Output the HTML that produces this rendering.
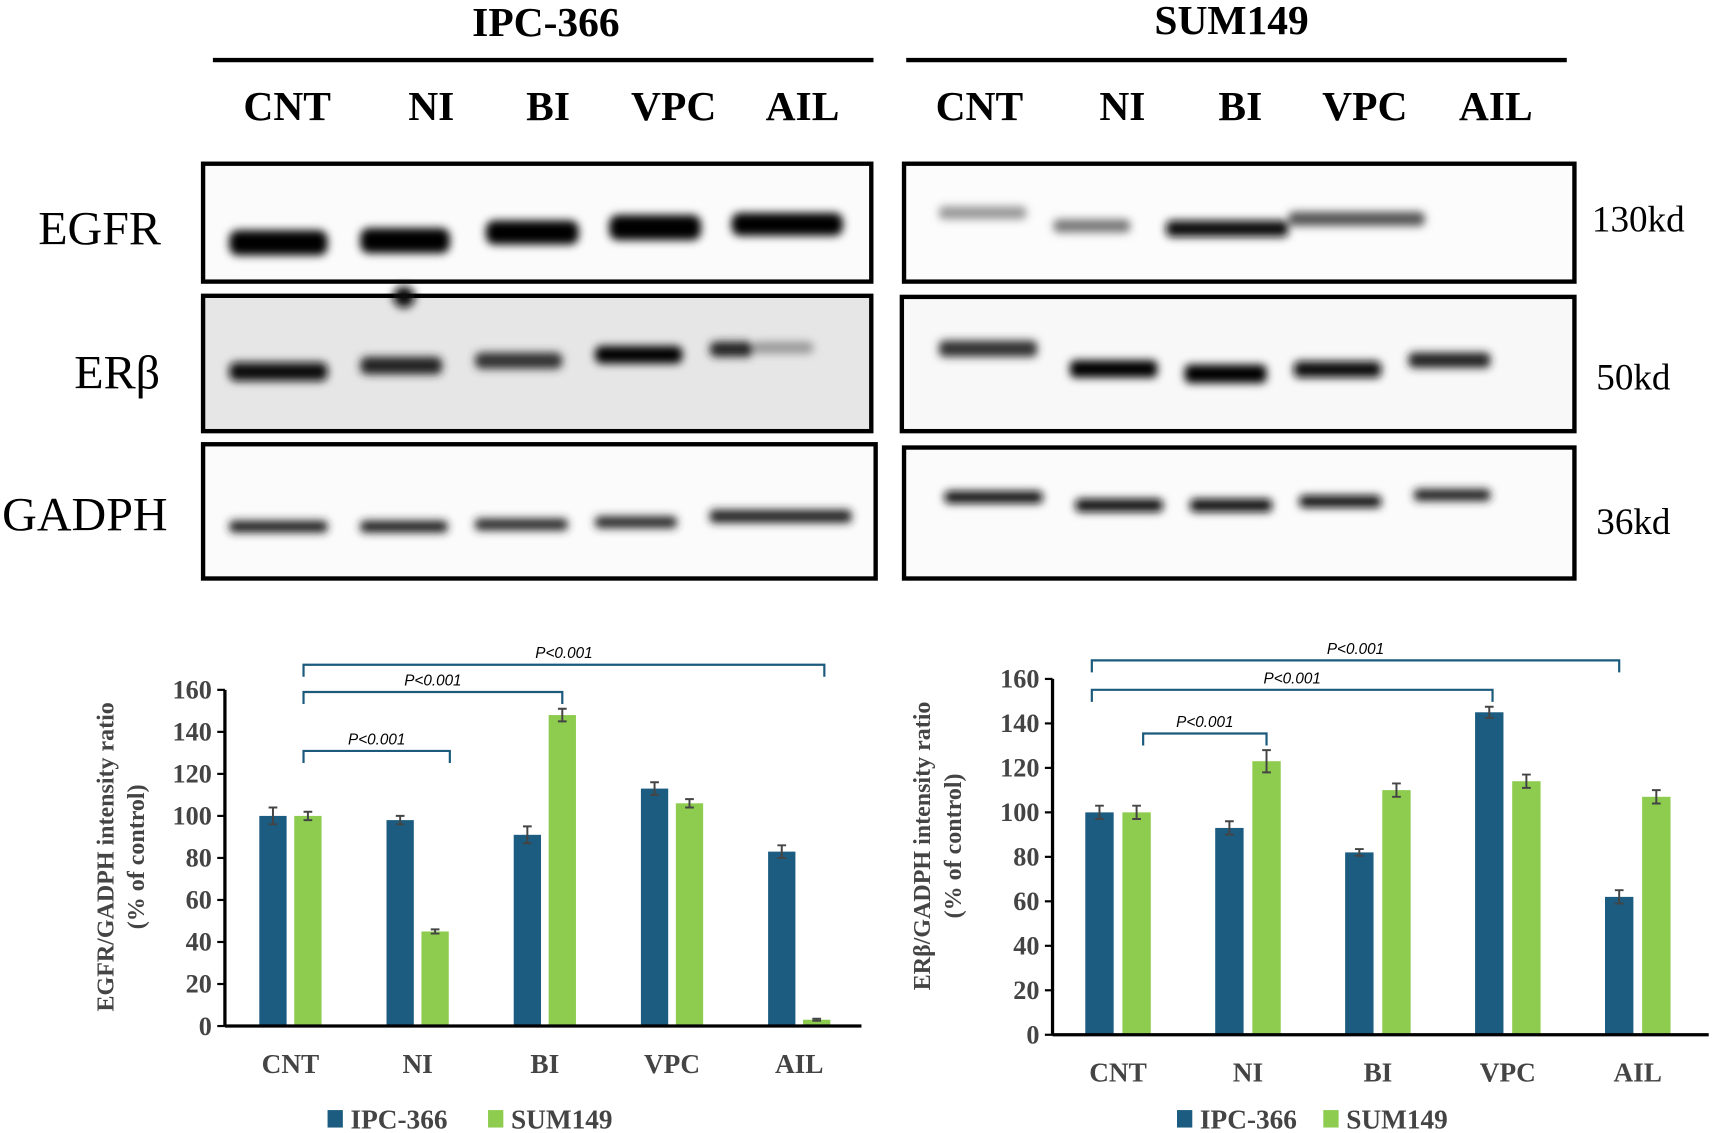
<!DOCTYPE html>
<html><head><meta charset="utf-8"><style>
html,body{margin:0;padding:0;background:#fff;}
svg{display:block;}
.ser{font-family:"Liberation Serif",serif;}
</style></head><body>
<svg id="fig" width="1712" height="1133" viewBox="0 0 1568 1038" preserveAspectRatio="none" xmlns="http://www.w3.org/2000/svg">
<defs>
<filter id="blur" x="-20%" y="-100%" width="140%" height="300%"><feGaussianBlur stdDeviation="4"/></filter>
</defs>
<g class="ser" font-weight="bold" fill="#000">
<text x="500" y="33" font-size="38" text-anchor="middle">IPC-366</text>
<text x="1128" y="31" font-size="38" text-anchor="middle">SUM149</text>
<line x1="195" y1="55" x2="800" y2="55" stroke="#000" stroke-width="4"/>
<line x1="830" y1="55" x2="1435" y2="55" stroke="#000" stroke-width="4"/>
<g font-size="38" text-anchor="middle">
<text x="263" y="110">CNT</text>
<text x="395" y="110">NI</text>
<text x="502" y="110">BI</text>
<text x="617" y="110">VPC</text>
<text x="735" y="110">AIL</text>
<text x="897" y="110">CNT</text>
<text x="1028" y="110">NI</text>
<text x="1136" y="110">BI</text>
<text x="1250" y="110">VPC</text>
<text x="1370" y="110">AIL</text>
</g>
</g>
<g class="ser" font-size="44" fill="#000">
<text x="35" y="224">EGFR</text>
<text x="68" y="356">ERβ</text>
<text x="2" y="486">GADPH</text>
</g>
<g class="ser" font-size="34" fill="#000">
<text x="1458" y="212">130kd</text>
<text x="1462" y="357">50kd</text>
<text x="1462" y="489">36kd</text>
</g>
<g id="blots">
<rect x="186" y="150" width="612" height="108" fill="#fbfbfb" stroke="#000" stroke-width="4"/>
<rect x="186" y="271" width="612" height="124" fill="#e6e6e6" stroke="#000" stroke-width="4"/>
<rect x="186" y="407" width="616" height="123" fill="#fbfbfb" stroke="#000" stroke-width="4"/>
<rect x="828" y="150" width="614" height="108" fill="#fcfcfc" stroke="#000" stroke-width="4"/>
<rect x="826" y="272" width="616" height="123" fill="#f8f8f8" stroke="#000" stroke-width="4"/>
<rect x="828" y="410" width="614" height="120" fill="#fbfbfb" stroke="#000" stroke-width="4"/>
<g filter="url(#blur)">
<rect x="210" y="211" width="90" height="23" rx="8" fill="#000"/>
<rect x="330" y="209" width="82" height="23" rx="8" fill="#000"/>
<rect x="445" y="202" width="85" height="22" rx="8" fill="#000"/>
<rect x="558" y="197" width="84" height="23" rx="8" fill="#000"/>
<rect x="670" y="195" width="102" height="21" rx="8" fill="#000"/>
<rect x="210" y="332" width="90" height="17" rx="6" fill="#111"/>
<rect x="330" y="327" width="75" height="16" rx="6" fill="#222"/>
<rect x="435" y="323" width="80" height="15" rx="6" fill="#333"/>
<rect x="545" y="317" width="80" height="16" rx="6" fill="#050505"/>
<rect x="650" y="313" width="40" height="14" rx="6" fill="#222"/>
<rect x="690" y="313" width="55" height="11" rx="5" fill="#999"/>
<circle cx="370" cy="272" r="10" fill="#111"/>
<rect x="210" y="477" width="90" height="11" rx="4" fill="#222"/>
<rect x="330" y="477" width="80" height="11" rx="4" fill="#222"/>
<rect x="435" y="475" width="85" height="11" rx="4" fill="#2a2a2a"/>
<rect x="545" y="473" width="75" height="11" rx="4" fill="#2a2a2a"/>
<rect x="650" y="467" width="130" height="12" rx="4" fill="#222"/>
<rect x="860" y="189" width="80" height="12" rx="4" fill="#999"/>
<rect x="965" y="201" width="70" height="12" rx="4" fill="#777"/>
<rect x="1068" y="202" width="112" height="15" rx="5" fill="#111"/>
<rect x="1180" y="194" width="125" height="13" rx="5" fill="#555"/>
<rect x="860" y="312" width="90" height="15" rx="5" fill="#333"/>
<rect x="980" y="330" width="80" height="16" rx="5" fill="#050505"/>
<rect x="1085" y="334" width="75" height="17" rx="5" fill="#000"/>
<rect x="1185" y="331" width="80" height="15" rx="5" fill="#111"/>
<rect x="1290" y="323" width="75" height="14" rx="5" fill="#222"/>
<rect x="865" y="450" width="90" height="11" rx="4" fill="#111"/>
<rect x="985" y="457" width="80" height="12" rx="4" fill="#111"/>
<rect x="1090" y="457" width="75" height="12" rx="4" fill="#0a0a0a"/>
<rect x="1190" y="454" width="75" height="11" rx="4" fill="#111"/>
<rect x="1295" y="448" width="70" height="11" rx="4" fill="#222"/>
</g>
</g>
<g id="chartL"></g>
<g id="chartR"></g>
</svg>
<script>
const categories = ["CNT","NI","BI","VPC","AIL"];
const egfrIpc = [100, 98, 91, 113, 83];
const egfrIpcErr = [4, 2, 4, 3, 3];
const egfrSum = [100, 45, 148, 106, 3];
const egfrSumErr = [2, 1, 3, 2, 0.5];
const erbIpc = [100, 93, 82, 145, 62];
const erbIpcErr = [3, 3, 1.5, 2.5, 3];
const erbSum = [100, 123, 110, 114, 107];
const erbSumErr = [3, 5, 3, 3, 3];
const yTicks = [0, 20, 40, 60, 80, 100, 120, 140, 160];
const series = ["IPC-366", "SUM149"];
const NS = "http://www.w3.org/2000/svg";
const BLUE = "#1b5c80", GREEN = "#8dcc4f", BRK = "#1b5a7c";
function mk(parent, tag, attrs, txt){
  const e = document.createElementNS(NS, tag);
  for (const k in attrs) e.setAttribute(k, attrs[k]);
  if (txt !== undefined) e.textContent = txt;
  parent.appendChild(e); return e;
}
function drawChart(g, cfg){
  const y = v => cfg.y0 - (v / 160) * (cfg.y0 - cfg.y160);
  const cx = i => cfg.c0 + i * cfg.step;
  const ya = mk(g, "line", {x1:cfg.ax, y1:cfg.y160, x2:cfg.ax, y2:cfg.y0, stroke:"#000", "stroke-width":3});
  
  
  yTicks.forEach(t => {
    const tl = mk(g, "line", {x1:cfg.ax-7, y1:y(t), x2:cfg.ax, y2:y(t), stroke:"#000", "stroke-width":2});
    
    
    const tx = mk(g, "text", {x:cfg.ax-12, y:y(t)+8, "text-anchor":"end", "font-size":24, "font-weight":"bold", fill:"#444", class:"ser"}, String(t));
    
    
  });
  categories.forEach((c, i) => {
    [[cfg.a, cfg.ae, BLUE, -1], [cfg.b, cfg.be, GREEN, 1]].forEach(([vals, errs, col, side], k) => {
      const bx = cx(i) + side * cfg.off - cfg.bw / 2;
      const r = mk(g, "rect", {x:bx, y:y(vals[i]), width:cfg.bw, height:y(0)-y(vals[i]), fill:col});
      
      
      const ex = bx + cfg.bw / 2;
      const eg = mk(g, "path", {d:`M${ex},${y(vals[i]+errs[i])}V${y(vals[i]-errs[i])}M${ex-4},${y(vals[i]+errs[i])}H${ex+4}M${ex-4},${y(vals[i]-errs[i])}H${ex+4}`, stroke:"#444", "stroke-width":1.8, fill:"none"});
      
      
    });
    const lab = mk(g, "text", {x:cx(i), y:cfg.y0+43, "text-anchor":"middle", "font-size":25, "font-weight":"bold", fill:"#444", class:"ser"}, c);
    
    
  });
  const xa = mk(g, "line", {x1:cfg.ax, y1:cfg.y0, x2:cfg.xEnd, y2:cfg.y0, stroke:"#000", "stroke-width":3});
  
  
  const yt = mk(g, "text", {transform:`translate(${cfg.ytx},${cfg.yty}) rotate(-90)`, "text-anchor":"middle", "font-size":22, "font-weight":"bold", fill:"#444", class:"ser"});
  
  
  mk(yt, "tspan", {x:0, y:0}, cfg.ytitle);
  mk(yt, "tspan", {x:0, y:28}, "(% of control)");
  cfg.brackets.forEach(b => {
    const p = mk(g, "path", {d:`M${b[0]},${b[2]+11}V${b[2]}H${b[1]}V${b[2]+11}`, stroke:BRK, "stroke-width":2, fill:"none"});
    
    
    const t = mk(g, "text", {x:(b[0]+b[1])/2, y:b[2]-6, "text-anchor":"middle", "font-size":14, "font-style":"italic", fill:"#000", "font-family":"Liberation Sans, sans-serif"}, "P<0.001");
    
    
  });
  [[BLUE, cfg.lg], [GREEN, cfg.lg + cfg.lg2]].forEach(([col, lx], k) => {
    const s = mk(g, "rect", {x:lx, y:1017, width:14, height:16, fill:col});
    
    
    const t = mk(g, "text", {x:lx+21, y:1034, "font-size":25, "font-weight":"bold", fill:"#444", class:"ser"}, series[k]);
    
    
  });
}
drawChart(document.getElementById("chartL"), {
  a:egfrIpc, ae:egfrIpcErr, b:egfrSum, be:egfrSumErr,
  ax:206, y0:940, y160:632, xEnd:789, c0:266, step:116.5, off:16, bw:25,
  ytx:104, yty:785, ytitle:"EGFR/GADPH intensity ratio",
  brackets:[[278,755,609],[278,515,634],[278,412,688]],
  lg:300, lg2:147
});
drawChart(document.getElementById("chartR"), {
  a:erbIpc, ae:erbIpcErr, b:erbSum, be:erbSumErr,
  ax:964, y0:948, y160:622, xEnd:1565, c0:1024, step:119, off:17, bw:26,
  ytx:852, yty:775, ytitle:"ERβ/GADPH intensity ratio",
  brackets:[[1000,1483,605],[1000,1367,632],[1047,1160,672]],
  lg:1078, lg2:134
});
</script>
</body></html>
